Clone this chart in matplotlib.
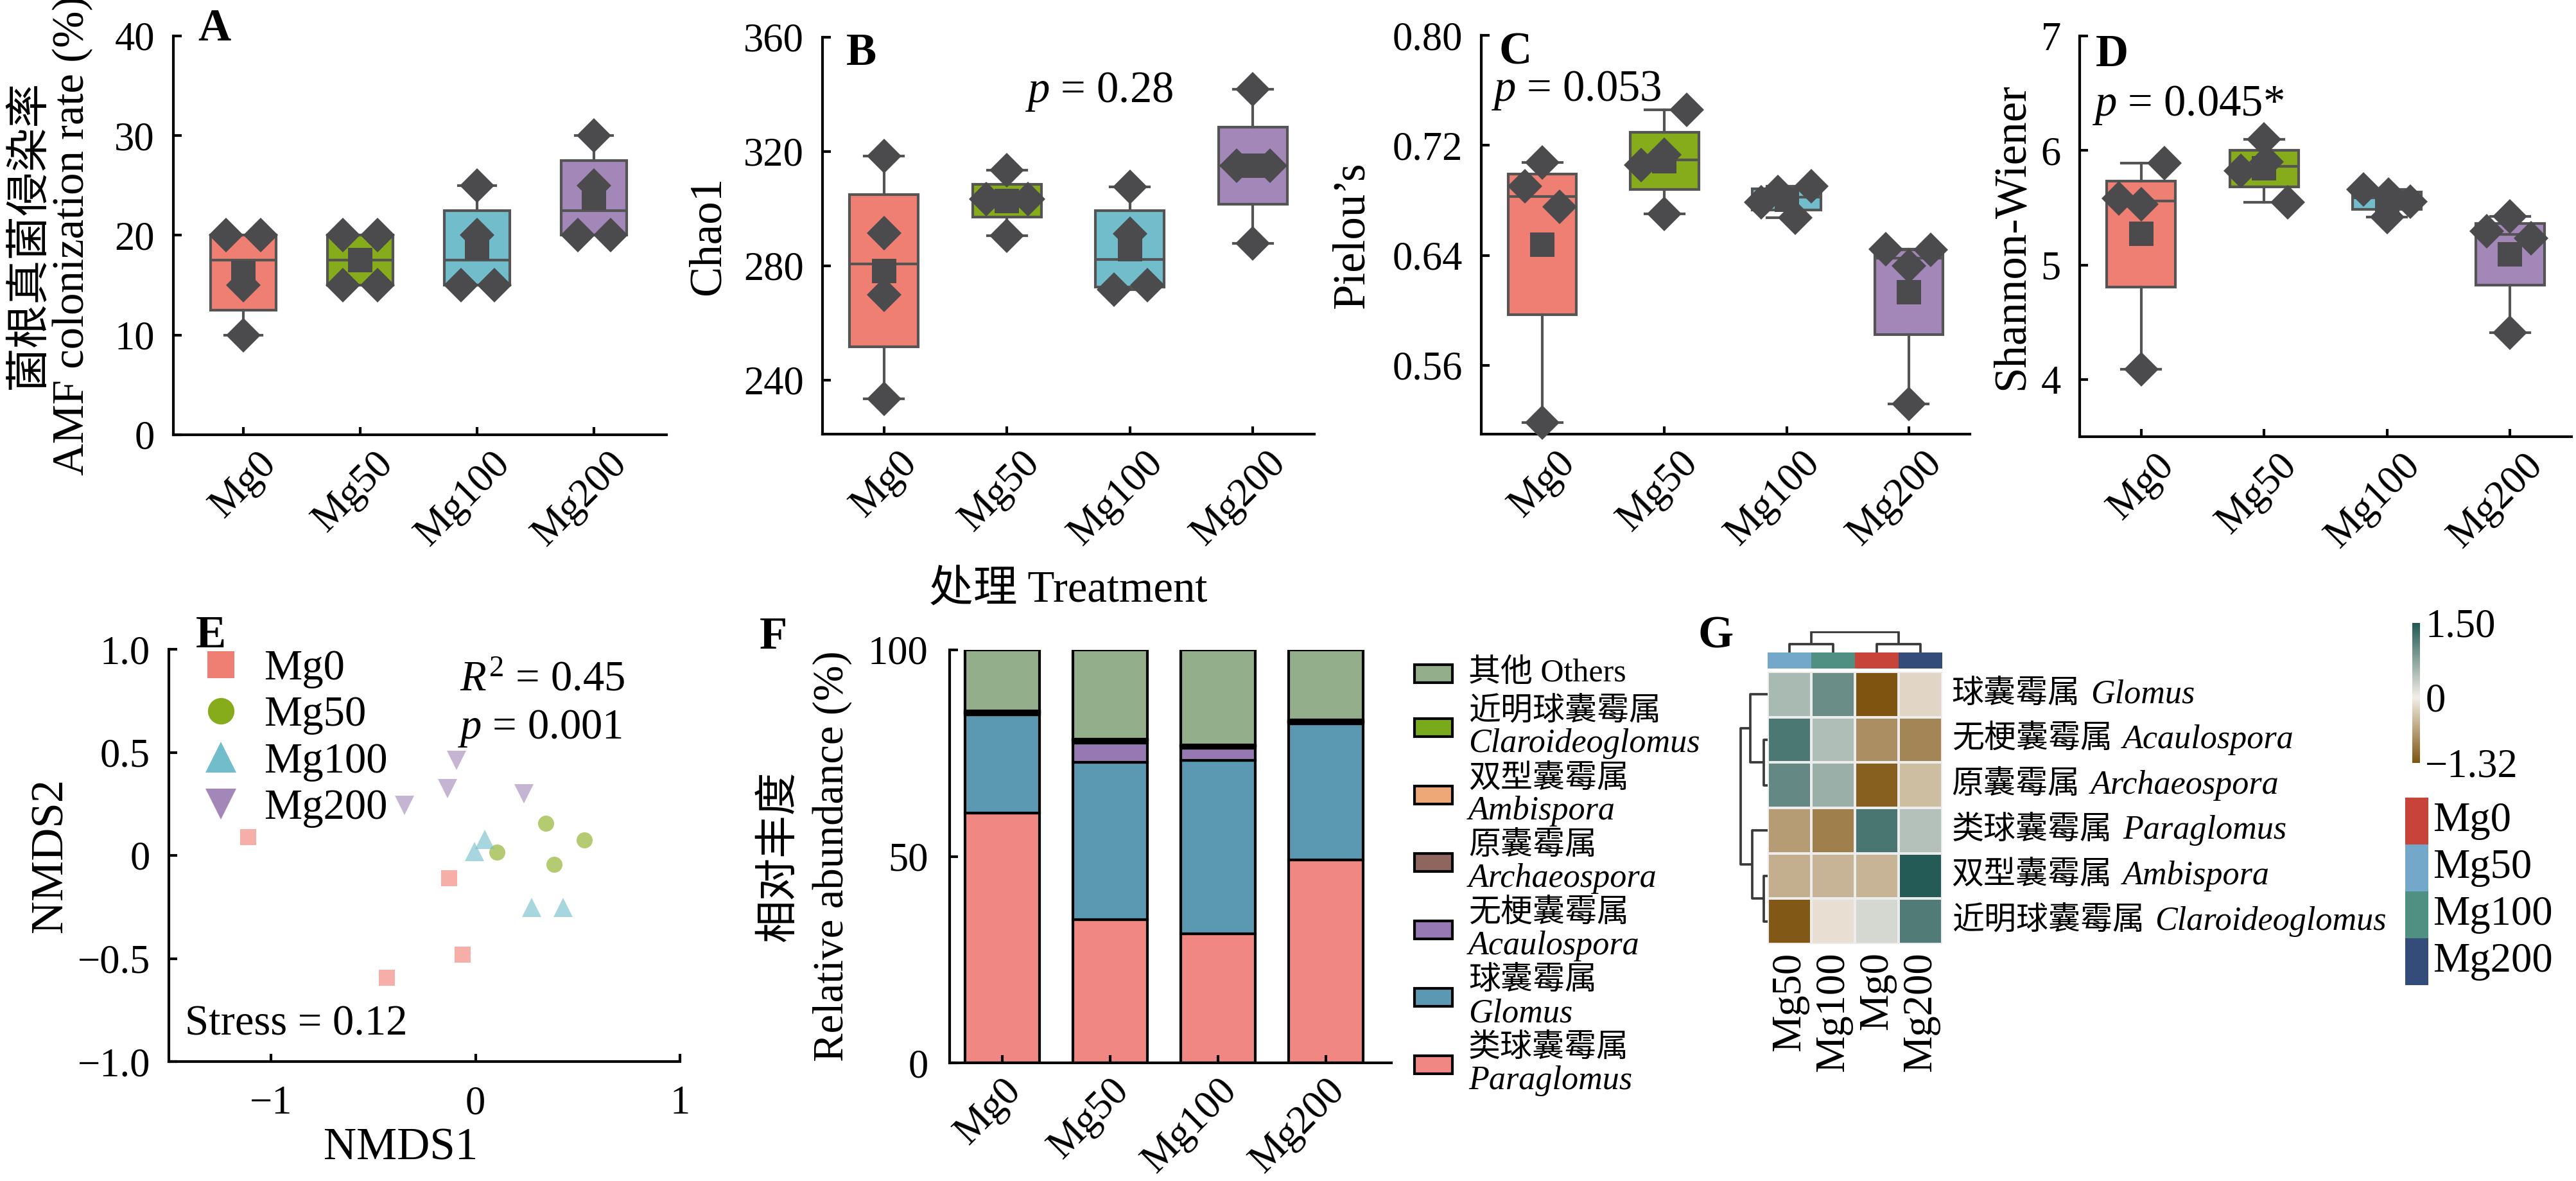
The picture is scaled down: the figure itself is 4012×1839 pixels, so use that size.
import numpy as np
import matplotlib
matplotlib.use("Agg")
import matplotlib.pyplot as plt
import matplotlib.transforms as mtransforms
from matplotlib.colors import LinearSegmentedColormap, Normalize
from matplotlib.cm import ScalarMappable
from matplotlib.patches import Rectangle

plt.rcParams['font.family'] = ['Liberation Serif', 'Noto Sans CJK SC']
plt.rcParams['mathtext.fontset'] = 'custom'
plt.rcParams['mathtext.rm'] = 'Liberation Serif'
plt.rcParams['mathtext.it'] = 'Liberation Serif:italic'
plt.rcParams['mathtext.bf'] = 'Liberation Serif:bold'
plt.rcParams['axes.linewidth'] = 1.0

# ---------------- data ----------------
groups = ["Mg0", "Mg50", "Mg100", "Mg200"]
box_colors = ["#F07F73", "#86AC1B", "#72BDCC", "#A387B8"]

# A: AMF colonization rate (%), 4 replicates per treatment; jitter = x offset in category units
a_vals = [[20, 20, 15, 10], [20, 20, 15, 15], [25, 20, 15, 15], [30, 25, 20, 20]]
a_jit = [[-0.15, 0.15, 0, 0], [-0.15, 0.15, -0.15, 0.15], [0, 0, -0.14, 0.15], [0, 0, -0.14, 0.14]]
# B: Chao1
b_vals = [[318.3, 291.4, 269.8, 233.3], [313.4, 303.4, 303.4, 290.5],
          [307.5, 291.1, 273.2, 271.7], [341.8, 315.0, 315.0, 287.9]]
b_jit = [[0, 0, 0, 0], [0, -0.17, 0.17, 0], [0, 0, 0.14, -0.13], [0, -0.13, 0.14, 0]]
# C: Pielou's evenness
c_vals = [[0.7076, 0.6902, 0.6754, 0.5184], [0.7458, 0.7130, 0.7055, 0.6701],
          [0.6902, 0.6862, 0.6787, 0.6674], [0.6446, 0.6438, 0.6325, 0.5318]]
c_jit = [[0, -0.14, 0.14, 0], [0.18, 0, -0.19, 0], [0.2, -0.07, -0.21, 0.07], [-0.19, 0.18, 0, 0]]
# D: Shannon-Wiener
d_vals = [[5.887, 5.581, 5.532, 4.087], [6.097, 5.903, 5.82, 5.548],
          [5.661, 5.613, 5.555, 5.419], [5.426, 5.297, 5.232, 4.41]]
d_jit = [[0.19, -0.18, 0, 0], [0, 0.02, -0.19, 0.19], [-0.19, 0.01, 0.19, 0], [0, -0.19, 0.17, 0]]

# E: NMDS scores
nmds_x = [[-1.114, -0.132, -0.066, -0.435], [0.345, 0.532, 0.105, 0.385],
          [0.044, -0.004, 0.275, 0.429], [-0.092, -0.136, -0.347, 0.237]]
nmds_y = [[0.091, -0.108, -0.481, -0.593], [0.157, 0.075, 0.015, -0.043],
          [0.078, 0.019, -0.253, -0.253], [0.46, 0.324, 0.242, 0.298]]
nmds_markers = ["s", "o", "^", "v"]

# F: relative abundance (%), stacked bottom -> top
genera = ["Paraglomus", "Glomus", "Acaulospora", "Archaeospora", "Ambispora", "Claroideoglomus", "Others"]
genera_cn = ["类球囊霉属", "球囊霉属", "无梗囊霉属", "原囊霉属", "双型囊霉属", "近明球囊霉属", "其他"]
genus_colors = ["#F08783", "#5B98B2", "#9678B2", "#8E665E", "#EEA877", "#78AA1C", "#93AE8A"]
abund = [
    [60.5, 34.7, 31.3, 49.2],   # Paraglomus
    [23.8, 38.1, 42.0, 32.9],   # Glomus
    [0.3, 4.7, 2.9, 0.3],       # Acaulospora
    [0.2, 0.6, 0.5, 0.2],       # Archaeospora
    [0.2, 0.2, 0.2, 0.2],       # Ambispora
    [0.3, 0.1, 0.1, 0.3],       # Claroideoglomus
    [14.7, 21.6, 23.0, 16.9],   # Others
]

# G: heatmap of z-scores (clustered order)
heat_rows_cn = ["球囊霉属", "无梗囊霉属", "原囊霉属", "类球囊霉属", "双型囊霉属", "近明球囊霉属"]
heat_rows = ["Glomus", "Acaulospora", "Archaeospora", "Paraglomus", "Ambispora", "Claroideoglomus"]
heat_cols = ["Mg50", "Mg100", "Mg0", "Mg200"]
heat_vals = [
    [0.53, 0.98, -1.32, -0.20],
    [1.19, 0.48, -0.81, -0.88],
    [1.02, 0.63, -1.22, -0.42],
    [-0.70, -0.94, 1.21, 0.45],
    [-0.54, -0.50, -0.50, 1.47],
    [-1.28, -0.13, 0.22, 1.15],
]
anno_colors = {"Mg0": "#C8443A", "Mg50": "#74A8CB", "Mg100": "#4F9082", "Mg200": "#344C7A"}
# dendrograms: (left, right, height), leaves are display indices
row_tree = ((0, (1, 2, 0.6), 2.7), (3, (4, 5, 0.6), 2.4), 4.2)
col_tree = ((0, 1, 0.85), (2, 3, 0.85), 2.05)
zmin, zmax = -1.32, 1.50

EDGE = "#545454"
PT = "#4B4B4D"
W, H = 4012, 1839
fig = plt.figure(figsize=(W / 300, H / 300), dpi=300)


def px_axes(x0, y0, x1, y1):
    return fig.add_axes([x0 / W, 1 - y1 / H, (x1 - x0) / W, (y1 - y0) / H])


def style(ax, pad=7):
    for s in ("top", "right"):
        ax.spines[s].set_visible(False)
    ax.tick_params(direction="in", length=3, width=1, labelsize=15, pad=pad)


def rot_labels(ax, labels, shift_px=0):
    ax.set_xticklabels(labels, rotation=45, ha="right", va="top", rotation_mode="anchor")
    if shift_px:
        off = mtransforms.ScaledTranslation(shift_px / 300, 0, fig.dpi_scale_trans)
        for lab in ax.get_xticklabels():
            lab.set_transform(lab.get_transform() + off)


def hinges(v):
    v = np.sort(np.asarray(v, float))
    n = len(v); h = n // 2
    return dict(med=np.median(v), q1=np.median(v[:h]), q3=np.median(v[n - h:]),
                whislo=v[0], whishi=v[-1], fliers=[])


def box_panel(rect, vals, jit, ylim, yticks, yticklabels, xlim, ylabel, ylab_x, ylab_fs=17):
    ax = px_axes(*rect)
    lp = dict(color=EDGE, linewidth=1.0)
    bp = ax.bxp([hinges(v) for v in vals], positions=range(4), widths=0.56, patch_artist=True,
                showfliers=False, capwidths=0.32, boxprops=dict(edgecolor=EDGE, linewidth=1.0),
                medianprops=lp, whiskerprops=lp, capprops=lp)
    for patch, c in zip(bp["boxes"], box_colors):
        patch.set_facecolor(c)
    for i, (v, j) in enumerate(zip(vals, jit)):
        ax.plot(i + np.asarray(j), v, ls="none", marker="D", ms=9, color=PT, mec="none", zorder=4, clip_on=False)
        ax.plot(i, np.mean(v), ls="none", marker="s", ms=9, color=PT, mec="none", zorder=4)
    ax.set_xlim(*xlim); ax.set_ylim(*ylim)
    ax.set_yticks(yticks); ax.set_yticklabels(yticklabels)
    ax.set_xticks(range(4))
    style(ax)
    ax.tick_params(axis="x", pad=4)
    rot_labels(ax, groups, shift_px=22)
    ax.set_ylabel(ylabel, fontsize=ylab_fs, linespacing=1.05)
    ax.yaxis.set_label_coords(ylab_x, 0.5)
    return ax


box_panel((270, 56, 1038, 677), a_vals, a_jit, (0, 40), [0, 10, 20, 30, 40], ["0", "10", "20", "30", "40"],
          (-0.6, 3.62), "菌根真菌侵染率\nAMF colonization rate (%)", -0.163, ylab_fs=16.5)
box_panel((1281, 58, 2047, 676), b_vals, b_jit, (221, 360), [240, 280, 320, 360], ["240", "280", "320", "360"],
          (-0.5, 3.5), "Chao1", -0.19)
box_panel((2307, 55, 3068, 676), c_vals, c_jit, (0.51, 0.80), [0.56, 0.64, 0.72, 0.80],
          ["0.56", "0.64", "0.72", "0.80"], (-0.5, 3.5), "Pielou\u2019s", -0.222)
box_panel((3239, 56, 4005, 680), d_vals, d_jit, (3.5, 7), [4, 5, 6, 7], ["4", "5", "6", "7"],
          (-0.5, 3.5), "Shannon-Wiener", -0.096)

# ---------------- E: NMDS ----------------
ax = px_axes(263, 1011, 1059, 1653)
for g, mk, col, xs, ys in zip(groups, nmds_markers, box_colors, nmds_x, nmds_y):
    ms = 7 if mk in "^v" else 6
    ax.plot(xs, ys, ls="none", marker=mk, ms=ms, color=col, alpha=0.62, mec="none", label=g)
leg = ax.legend(loc="upper left", bbox_to_anchor=(0.06, 1.0), frameon=False, fontsize=16,
                markerscale=1.65, handlelength=1.0, handletextpad=0.5, labelspacing=0.17,
                borderpad=0, borderaxespad=0)
for h in leg.legend_handles:
    h.set_alpha(1)
ax.set_xlim(-1.5, 1.0); ax.set_ylim(-1, 1)
ax.set_xticks([-1, 0, 1]); ax.set_xticklabels(["\u22121", "0", "1"])
ax.set_yticks([-1, -0.5, 0, 0.5, 1]); ax.set_yticklabels(["\u22121.0", "\u22120.5", "0", "0.5", "1.0"])
style(ax)
ax.tick_params(axis="x", pad=9)
ax.set_xlabel("NMDS1", fontsize=17); ax.xaxis.set_label_coords(0.4535, -0.159)
ax.set_ylabel("NMDS2", fontsize=17); ax.yaxis.set_label_coords(-0.19, 0.5)

# ---------------- F: stacked bars ----------------
ax = px_axes(1479, 1012, 2167, 1655)
bottom = np.zeros(4)
for vals, col in zip(abund, genus_colors):
    ax.bar(range(4), vals, bottom=bottom, width=0.69, color=col, edgecolor="black", linewidth=1.0)
    bottom += np.asarray(vals)
ax.set_xlim(-0.49, 3.61); ax.set_ylim(0, 100)
ax.set_yticks([0, 50, 100]); ax.set_yticklabels(["0", "50", "100"])
ax.set_xticks(range(4))
style(ax, pad=8)
ax.tick_params(axis="x", pad=3.5)
rot_labels(ax, groups)
ax.set_ylabel("Relative abundance (%)", fontsize=16)
ax.yaxis.set_label_coords(-0.221, 0.5)
ax.text(-0.34, 0.5, "相对丰度", transform=ax.transAxes, rotation=90, rotation_mode="anchor",
        ha="center", va="bottom", fontsize=16)

# ---------------- G: heatmap ----------------
p0 = -zmin / (zmax - zmin)
cmap = LinearSegmentedColormap.from_list("bt", [(0, "#7E5410"), (p0, "#F3EEE6"), (1, "#215955")])
norm = Normalize(zmin, zmax)
hx = px_axes(2753, 1046, 3025, 1470)
hx.pcolormesh(np.asarray(heat_vals), cmap=cmap, norm=norm, edgecolors="#ECECEC", linewidth=0.5)
hx.set_xlim(0, 4); hx.set_ylim(6, 0)
hx.set_xticks(np.arange(4) + 0.5); hx.set_xticklabels(heat_cols, rotation=90, fontsize=15.5)
hx.set_yticks([])
hx.tick_params(length=0, pad=3)
for s in hx.spines.values():
    s.set_visible(False)
for i, (cn, la) in enumerate(zip(heat_rows_cn, heat_rows)):
    t = hx.annotate(cn, xy=(4, i + 0.5), xycoords="data", xytext=(3.5, 0), textcoords="offset points",
                    va="center", ha="left", fontsize=12)
    hx.annotate(la, xy=(1, 0.5), xycoords=t, xytext=(4, 0), textcoords="offset points",
                va="center", ha="left", fontsize=12.5, style="italic")

anx = px_axes(2753, 1016, 3025, 1041)
for i, g in enumerate(heat_cols):
    anx.add_patch(Rectangle((i, 0), 1, 1, color=anno_colors[g], lw=0))
anx.set_xlim(0, 4); anx.set_ylim(0, 1); anx.axis("off")


def draw_tree(ax, node, orient):
    if isinstance(node, int):
        return node + 0.5, 0.0
    l, r, h = node
    pl, hl = draw_tree(ax, l, orient)
    pr, hr = draw_tree(ax, r, orient)
    kw = dict(color="#3A3A3A", lw=0.9, solid_capstyle="butt")
    if orient == "top":
        ax.plot([pl, pl, pr, pr], [hl, h, h, hr], **kw)
    else:
        ax.plot([hl, h, h, hr], [pl, pl, pr, pr], **kw)
    return (pl + pr) / 2, h


cdx = px_axes(2753, 983, 3025, 1016)
draw_tree(cdx, col_tree, "top")
cdx.set_xlim(0, 4); cdx.set_ylim(0, 2.1); cdx.axis("off")
rdx = px_axes(2705, 1046, 2753, 1470)
draw_tree(rdx, row_tree, "left")
rdx.set_xlim(4.8, 0); rdx.set_ylim(6, 0); rdx.axis("off")

cax = px_axes(3757, 970, 3769, 1188)
cb = fig.colorbar(ScalarMappable(norm=norm, cmap=cmap), cax=cax, ticks=[zmin, 0, zmax])
cb.ax.set_yticklabels(["\u22121.32", "0", "1.50"])
cb.ax.tick_params(length=0, labelsize=15, pad=2)
cb.outline.set_visible(False)

# ---------------- free text / legends ----------------
ov = fig.add_axes([0, 0, 1, 1], zorder=10)
ov.set_xlim(0, W); ov.set_ylim(H, 0); ov.axis("off"); ov.patch.set_alpha(0)
for lab, x, y in [("A", 308, 45), ("B", 1318, 83), ("C", 2335, 82), ("D", 3264, 85),
                  ("E", 305, 990), ("F", 1183, 992), ("G", 2645, 991)]:
    ov.text(x, y, lab, fontsize=17, fontweight="bold", va="center", ha="left")
ov.text(1596, 143, "$p$ = 0.28", fontsize=16.5, va="center")
ov.text(2322, 141, "$p$ = 0.053", fontsize=16.5, va="center")
ov.text(3258, 164, "$p$ = 0.045*", fontsize=16.5, va="center")
ov.text(1664, 921, "处理 Treatment", fontsize=16.5, ha="center", va="center")
ov.text(716, 1059, "$R^2$ = 0.45", fontsize=16, va="center")
ov.text(713, 1134, "$p$ = 0.001", fontsize=16, va="center")
ov.text(288, 1595, "Stress = 0.12", fontsize=16, va="center")

# F legend (top entry single line, others Chinese + italic Latin)
order = list(range(len(genera)))[::-1]
for k, gi in enumerate(order):
    yc = 1049 if k == 0 else 1133 + (k - 1) * 105
    ov.add_patch(Rectangle((2203, yc - 14), 59, 28, facecolor=genus_colors[gi], edgecolor="black", lw=1.0))
    if genera[gi] == "Others":
        ov.text(2287, yc, f"{genera_cn[gi]} {genera[gi]}", fontsize=12, va="center")
    else:
        ov.text(2287, yc - 25, genera_cn[gi], fontsize=12, va="center")
        ov.text(2287, yc + 25, genera[gi], fontsize=12.5, style="italic", va="center")

# G annotation legend
for i, g in enumerate(groups):
    ov.add_patch(Rectangle((3746, 1242 + i * 73), 36, 73, color=anno_colors[g], lw=0))
    ov.text(3789, 1242 + i * 73 + 36.5, g, fontsize=15.5, va="center")

fig.savefig("out.png", dpi=300)
